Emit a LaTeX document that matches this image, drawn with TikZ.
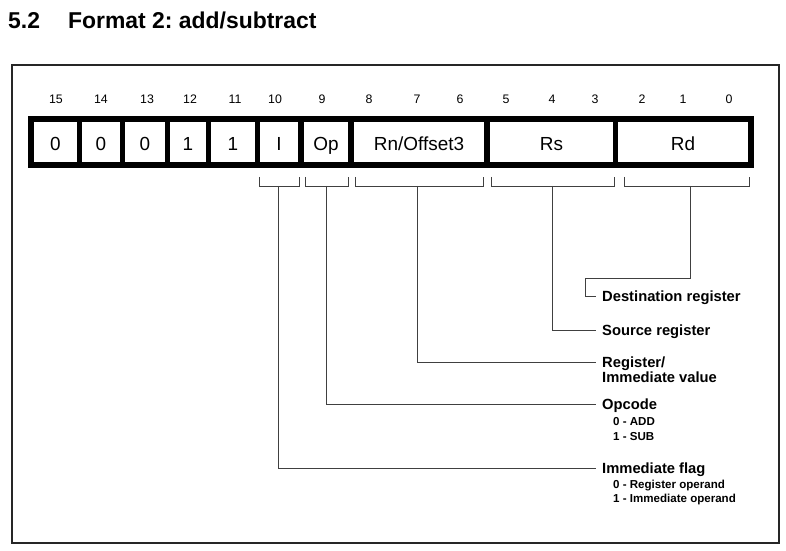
\documentclass[tikz,border=0pt]{standalone}
\usepackage{fontspec}
\setmainfont{Liberation Sans}
\frenchspacing
\begin{document}
\begin{tikzpicture}[x=1bp,y=-1bp,
  heading/.style={anchor=west, inner sep=0pt, text height=16.4bp, text depth=0pt, font=\bfseries\fontsize{23}{26}\selectfont},
  bitnum/.style={inner sep=0pt, text height=8.9bp, text depth=0pt, font=\fontsize{12.4}{14}\selectfont},
  cell/.style={fill=white, inner sep=0pt, minimum height=40.3bp, text height=17.2bp, text depth=0pt, font=\fontsize{19}{22}\selectfont},
  lbl/.style={anchor=west, inner xsep=6bp, inner ysep=0pt, text height=10.6bp, text depth=0pt, font=\bfseries\fontsize{14.8}{17}\selectfont},
  sub/.style={anchor=west, inner sep=0pt, text height=8.3bp, text depth=0pt, font=\bfseries\fontsize{11.6}{14}\selectfont},
  wire/.style={black!75, line width=0.9bp}]
\useasboundingbox (0,0) rectangle (786,551);
% title
\node[heading] (secno) at (8,20) {5.2};
\node[heading] (sectitle) at (68,20) {Format 2: add/subtract};
\draw[black!85, line width=1.6bp] (12,65) rectangle (779,543);
% bit numbers
\foreach \b/\x in {15/56,14/101,13/147,12/190,11/235,10/275,9/322,8/369,7/417,6/460,5/506,4/552,3/595,2/642,1/683,0/729}
  \node[bitnum] (n\b) at (\x,99) {\b};
% instruction word
\fill (28,116) rectangle (754,168);
\foreach \x/\w/\t/\n in {55.5/43/0/c15, 101/38/0/c14, 145/40/0/c13, 188/36/1/c12, 233/44/1/c11}
  \node[cell, minimum width=\w bp] (\n) at (\x,142.2) {\t};
\node[cell, minimum width=38bp] (fI) at (279,142.2) {I};
\node[cell, minimum width=44bp] (fOp) at (326,142.2) {Op};
\node[cell, minimum width=130bp] (fRn) at (419,142.2) {Rn/Offset3};
\node[cell, minimum width=123bp] (fRs) at (551.5,142.2) {Rs};
\node[cell, minimum width=130bp] (fRd) at (683,142.2) {Rd};
% brackets
\foreach \l/\r/\m/\n in {259/299/278/I, 305/348/326/Op, 355/483/417/Rn, 491/614/552/Rs, 624/749/690/Rd}{
  \draw[wire] (\l,177) |- (\r,186) -- (\r,177);
  \coordinate (br\n) at (\m,186);
}
% field descriptions
\node[lbl] (lblRd) at (596,296) {Destination register};
\node[lbl] (lblRs) at (596,330) {Source register};
\node[lbl] (lblRn) at (596,362) {Register/};
\node[lbl] (lblRnb) at (596,377) {Immediate value};
\node[lbl] (lblOp) at (596,404) {Opcode};
\node[sub] (opAdd) at (613,421) {0 - ADD};
\node[sub] (opSub) at (613,436) {1 - SUB};
\node[lbl] (lblI) at (596,468) {Immediate flag};
\node[sub] (iReg) at (613,484) {0 - Register operand};
\node[sub] (iImm) at (613,498) {1 - Immediate operand};
\coordinate (kRd) at (585,278);
\draw[wire] (brRd) |- (kRd) |- (lblRd.west);
\draw[wire] (brRs) |- (lblRs.west);
\draw[wire] (brRn) |- (lblRn.west);
\draw[wire] (brOp) |- (lblOp.west);
\draw[wire] (brI) |- (lblI.west);
\end{tikzpicture}
\end{document}
